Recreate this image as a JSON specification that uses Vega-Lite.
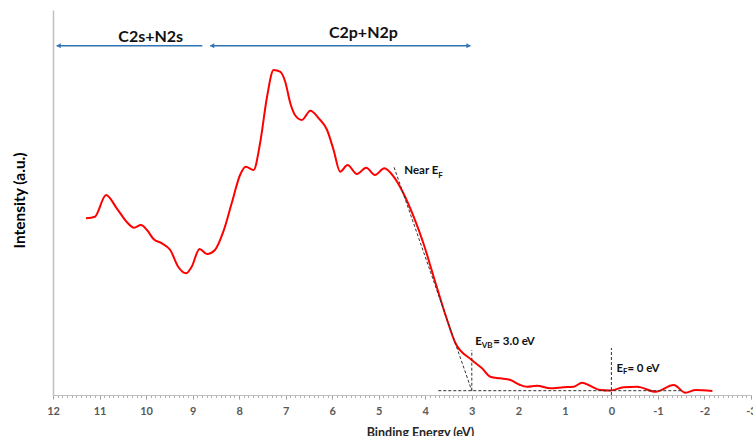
{
  "$schema": "https://vega.github.io/schema/vega-lite/v6.json",
  "width": 698,
  "height": 385,
  "autosize": "none",
  "padding": {"left": 53, "top": 10, "right": 2, "bottom": 41},
  "background": "white",
  "config": {
    "view": {"stroke": null},
    "font": "Lato",
    "axisY": {"labels": false, "ticks": false, "grid": false, "domainColor": "#c0c0c0", "domainWidth": 1.5,
              "titleFontSize": 15.5, "titleFontWeight": "bold", "titleColor": "#000000", "titleX": -34,
              "titleY": 190, "titleAlign": "center", "titleBaseline": "middle", "titleAngle": 270}
  },
  "datasets": {
    "curve": [
      {"x": 11.29, "y": 181.7}, {"x": 11.10, "y": 183.3}, {"x": 10.86, "y": 205}, {"x": 10.63, "y": 191.7},
      {"x": 10.42, "y": 178.3}, {"x": 10.26, "y": 172.3}, {"x": 10.11, "y": 175}, {"x": 9.98, "y": 170},
      {"x": 9.84, "y": 161}, {"x": 9.66, "y": 156.7}, {"x": 9.48, "y": 150}, {"x": 9.31, "y": 133.3},
      {"x": 9.14, "y": 126.7}, {"x": 9.02, "y": 133.3}, {"x": 8.85, "y": 151}, {"x": 8.69, "y": 146},
      {"x": 8.52, "y": 150}, {"x": 8.34, "y": 168.3}, {"x": 8.16, "y": 196.7}, {"x": 7.98, "y": 225},
      {"x": 7.86, "y": 233.3}, {"x": 7.69, "y": 230}, {"x": 7.55, "y": 256.7}, {"x": 7.40, "y": 303.3},
      {"x": 7.26, "y": 330}, {"x": 7.12, "y": 328.3}, {"x": 7.01, "y": 318.3}, {"x": 6.90, "y": 296.7},
      {"x": 6.80, "y": 285}, {"x": 6.65, "y": 280}, {"x": 6.47, "y": 289.3}, {"x": 6.29, "y": 281.7},
      {"x": 6.11, "y": 270}, {"x": 5.97, "y": 250}, {"x": 5.83, "y": 228.3}, {"x": 5.67, "y": 235},
      {"x": 5.47, "y": 226}, {"x": 5.27, "y": 232.3}, {"x": 5.08, "y": 225}, {"x": 4.88, "y": 231.7},
      {"x": 4.68, "y": 223.3}, {"x": 4.47, "y": 206.7}, {"x": 4.25, "y": 183.3}, {"x": 4.04, "y": 156.7},
      {"x": 3.82, "y": 123.3}, {"x": 3.53, "y": 80}, {"x": 3.35, "y": 56.7}, {"x": 3.00, "y": 40},
      {"x": 2.78, "y": 31.7}, {"x": 2.60, "y": 23.3}, {"x": 2.39, "y": 21.7}, {"x": 2.17, "y": 20},
      {"x": 1.96, "y": 15}, {"x": 1.81, "y": 13.3}, {"x": 1.60, "y": 14.3}, {"x": 1.31, "y": 11.7},
      {"x": 1.03, "y": 12.7}, {"x": 0.81, "y": 13.3}, {"x": 0.63, "y": 17.3}, {"x": 0.45, "y": 14},
      {"x": 0.24, "y": 10}, {"x": 0.02, "y": 9.5}, {"x": -0.26, "y": 12.7}, {"x": -0.55, "y": 13.3},
      {"x": -0.95, "y": 8.3}, {"x": -1.34, "y": 15}, {"x": -1.59, "y": 7.3}, {"x": -1.81, "y": 10},
      {"x": -2.17, "y": 9}
    ],
    "dashes": [
      {"x": 4.67, "y": 232.7, "x2": 3.0, "y2": 9.3},
      {"x": 3.72, "y": 9.3, "x2": -1.53, "y2": 9.3},
      {"x": 3.0, "y": 9.3, "x2": 3.0, "y2": 50},
      {"x": 0.0, "y": 5, "x2": 0.0, "y2": 52}
    ],
    "arrows": [
      {"x": 11.92, "y": 354.3, "x2": 8.79, "y2": 354.3},
      {"x": 8.62, "y": 354.3, "x2": 3.03, "y2": 354.3}
    ],
    "headsLeft": [{"x": 11.88, "y": 354.3}, {"x": 8.58, "y": 354.3}],
    "headsRight": [{"x": 3.07, "y": 354.3}],
    "regions": [
      {"x": 9.90, "y": 363.3, "label": "C2s+N2s"},
      {"x": 5.33, "y": 367, "label": "C2p+N2p"}
    ],
    "annot": [
      {"x": 4.452, "y": 225.7, "label": "Near E"},
      {"x": 2.925, "y": 55, "label": "E"},
      {"x": 2.538, "y": 55, "label": "= 3.0 eV"},
      {"x": -0.108, "y": 28.3, "label": "E"},
      {"x": -0.344, "y": 28.3, "label": "= 0 eV"}
    ],
    "subs": [
      {"x": 3.72, "y": 222.5, "label": "F"},
      {"x": 2.785, "y": 52.5, "label": "VB"},
      {"x": -0.247, "y": 26.5, "label": "F"}
    ]
  },
  "resolve": {"scale": {"x": "shared", "y": "shared"}, "axis": {"x": "independent"}},
  "layer": [
    {
      "data": {"name": "curve"},
      "mark": {"type": "line", "strokeOpacity": 0},
      "encoding": {
        "x": {"field": "x", "type": "quantitative",
              "scale": {"domain": [-3, 12], "reverse": true, "nice": false, "zero": false},
              "axis": {"orient": "bottom", "tickCount": 150, "labels": false, "domain": false, "grid": false,
                       "tickSize": 2.5, "tickColor": "#b0b0b0", "title": null}},
        "y": {"field": "y", "type": "quantitative", "scale": {"domain": [5, 390], "nice": false, "zero": false},
              "axis": {"title": "Intensity  (a.u.)"}}
      }
    },
    {
      "data": {"name": "curve"},
      "mark": {"type": "line", "color": "#FF0000", "strokeWidth": 2, "interpolate": "monotone"},
      "encoding": {
        "x": {"field": "x", "type": "quantitative",
              "axis": {"orient": "bottom", "tickCount": 15, "grid": false, "domainColor": "#bfbfbf",
                       "tickColor": "#a0a0a0", "tickSize": 4, "labelColor": "#595959", "labelFontSize": 11,
                       "labelPadding": 6, "labelFontWeight": "bold", "labelFlush": false,
                       "labelExpr": "datum.value + ''",
                       "title": "Binding Energy  (eV)", "titleFontSize": 12.5, "titleFontWeight": "bold",
                       "titleColor": "#262626", "titleX": 367, "titleY": 37, "titleBaseline": "middle",
                       "titleAlign": "center"}},
        "y": {"field": "y", "type": "quantitative", "axis": {"title": "Intensity  (a.u.)"}}
      }
    },
    {
      "data": {"name": "dashes"},
      "mark": {"type": "rule", "color": "#333333", "strokeWidth": 1, "strokeDash": [3, 2]},
      "encoding": {
        "x": {"field": "x", "type": "quantitative", "axis": null},
        "y": {"field": "y", "type": "quantitative", "axis": {"title": "Intensity  (a.u.)"}},
        "x2": {"field": "x2"},
        "y2": {"field": "y2"}
      }
    },
    {
      "data": {"name": "arrows"},
      "mark": {"type": "rule", "color": "#2E75B6", "strokeWidth": 1.5},
      "encoding": {
        "x": {"field": "x", "type": "quantitative", "axis": null},
        "y": {"field": "y", "type": "quantitative", "axis": {"title": "Intensity  (a.u.)"}},
        "x2": {"field": "x2"},
        "y2": {"field": "y2"}
      }
    },
    {
      "data": {"name": "headsLeft"},
      "mark": {"type": "point", "shape": "triangle-left", "filled": true, "color": "#2E75B6", "size": 25, "opacity": 1},
      "encoding": {
        "x": {"field": "x", "type": "quantitative", "axis": null},
        "y": {"field": "y", "type": "quantitative", "axis": {"title": "Intensity  (a.u.)"}}
      }
    },
    {
      "data": {"name": "headsRight"},
      "mark": {"type": "point", "shape": "triangle-right", "filled": true, "color": "#2E75B6", "size": 25, "opacity": 1},
      "encoding": {
        "x": {"field": "x", "type": "quantitative", "axis": null},
        "y": {"field": "y", "type": "quantitative", "axis": {"title": "Intensity  (a.u.)"}}
      }
    },
    {
      "data": {"name": "regions"},
      "mark": {"type": "text", "fontSize": 16, "fontWeight": "bold", "color": "#111111", "align": "center", "baseline": "middle"},
      "encoding": {
        "x": {"field": "x", "type": "quantitative", "axis": null},
        "y": {"field": "y", "type": "quantitative", "axis": {"title": "Intensity  (a.u.)"}},
        "text": {"field": "label"}
      }
    },
    {
      "data": {"name": "annot"},
      "mark": {"type": "text", "fontSize": 11.5, "fontWeight": "bold", "color": "#111111", "align": "left", "baseline": "alphabetic"},
      "encoding": {
        "x": {"field": "x", "type": "quantitative", "axis": null},
        "y": {"field": "y", "type": "quantitative", "axis": {"title": "Intensity  (a.u.)"}},
        "text": {"field": "label"}
      }
    },
    {
      "data": {"name": "subs"},
      "mark": {"type": "text", "fontSize": 8, "fontWeight": "bold", "color": "#111111", "align": "left", "baseline": "alphabetic"},
      "encoding": {
        "x": {"field": "x", "type": "quantitative", "axis": null},
        "y": {"field": "y", "type": "quantitative", "axis": {"title": "Intensity  (a.u.)"}},
        "text": {"field": "label"}
      }
    }
  ]
}
